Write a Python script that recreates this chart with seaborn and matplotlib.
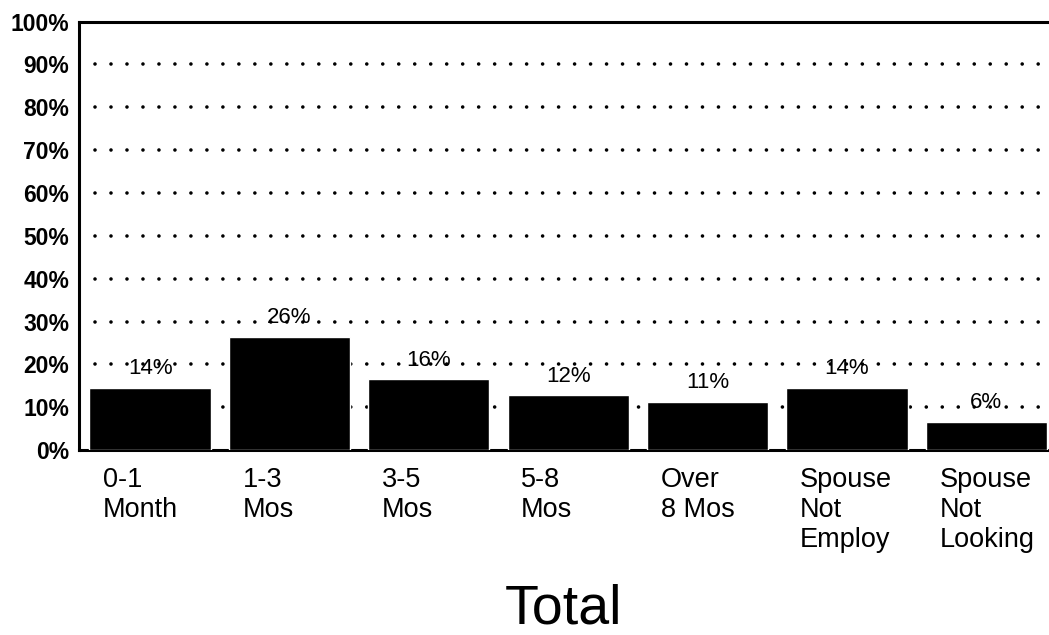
import matplotlib
matplotlib.use("Agg")
import matplotlib.pyplot as plt
import matplotlib.transforms as mtransforms
import seaborn as sns
import pandas as pd

# --- data ---
CATEGORIES = [
    "0-1\nMonth",
    "1-3\nMos",
    "3-5\nMos",
    "5-8\nMos",
    "Over\n8 Mos",
    "Spouse\nNot\nEmploy",
    "Spouse\nNot\nLooking",
]
VALUES = [14.5, 26.5, 16.5, 12.8, 11.3, 14.5, 6.6]
VALUE_LABELS = ["14%", "26%", "16%", "12%", "11%", "14%", "6%"]
Y_TICKS = [0, 10, 20, 30, 40, 50, 60, 70, 80, 90, 100]
Y_TICK_LABELS = ["0%", "10%", "20%", "30%", "40%", "50%", "60%", "70%", "80%", "90%", "100%"]
TITLE = "Total"

sns.set_theme(style="white")
plt.rcParams["font.family"] = ["Liberation Sans", "DejaVu Sans"]
plt.rcParams["text.color"] = "black"
plt.rcParams["axes.labelcolor"] = "black"
plt.rcParams["xtick.color"] = "black"
plt.rcParams["ytick.color"] = "black"
plt.rcParams["lines.scale_dashes"] = False

df = pd.DataFrame({"cat": CATEGORIES, "val": VALUES})

fig = plt.figure(figsize=(10.49, 6.35), dpi=100)
ax = fig.add_axes([0.0753, 0.291, 0.9247, 0.675])

sns.barplot(data=df, x="cat", y="val", color="black", width=0.87,
            saturation=1, ax=ax, zorder=3)

ax.set_ylim(0, 100)
ax.set_xlim(-0.51, 6.45)
ax.set_yticks(Y_TICKS)
ax.set_yticklabels(Y_TICK_LABELS, fontsize=16.5, fontweight="bold")
ax.tick_params(axis="y", length=0, pad=7)
ax.tick_params(axis="x", length=0, pad=12)

# dotted gridlines (round dots ~16px apart)
for y in Y_TICKS[1:-1]:
    ax.axhline(y, xmin=0.017, color="black", linestyle=(0, (0.01, 11.5)),
               linewidth=2.6, dash_capstyle="round", zorder=1)

# category labels, left aligned near bar left edge
ax.set_xticks(range(len(CATEGORIES)))
ax.set_xticklabels(CATEGORIES, fontsize=19.5, ha="left", va="top",
                   linespacing=1.2)
offset = mtransforms.ScaledTranslation(-0.47, 0, fig.dpi_scale_trans)
for lbl in ax.get_xticklabels():
    lbl.set_transform(lbl.get_transform() + offset)

# value labels above bars
for i, (v, t) in enumerate(zip(VALUES, VALUE_LABELS)):
    ax.text(i, v + 2.0, t, ha="center", va="bottom", fontsize=16,
            color="black", zorder=4)

ax.set_xlabel(TITLE, fontsize=40, labelpad=22, color="black")
ax.set_ylabel("")

for side in ["left", "top", "bottom"]:
    ax.spines[side].set_visible(True)
    ax.spines[side].set_color("black")
    ax.spines[side].set_linewidth(2.2)
ax.spines["right"].set_visible(False)

fig.savefig("out.png", dpi=100, facecolor="white")
